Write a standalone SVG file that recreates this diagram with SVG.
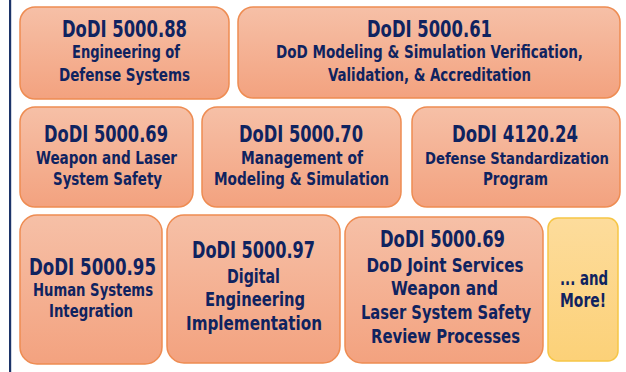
<svg xmlns="http://www.w3.org/2000/svg" width="626" height="372" viewBox="0 0 626 372">
<defs>
<linearGradient id="gO" x1="0" y1="0" x2="0" y2="1"><stop offset="0" stop-color="#F6C0A7"/><stop offset="1" stop-color="#F3A27F"/></linearGradient>
<linearGradient id="gY" x1="0" y1="0" x2="0" y2="1"><stop offset="0" stop-color="#FDDC9C"/><stop offset="1" stop-color="#FCD178"/></linearGradient>
<style>
.b{fill:url(#gO);stroke:#EE8C52;stroke-width:1.5}
.y{fill:url(#gY);stroke:#F6C646;stroke-width:1.5}
text{font-family:"Liberation Sans Narrow","DejaVu Sans Condensed","Liberation Sans",sans-serif;font-weight:bold;fill:#0F2360;text-anchor:middle}
.t{font-size:23px}
.s{font-size:17px}
.m{font-size:20px}
</style>
</defs>
<rect x="9" y="0" width="2.2" height="372" fill="#1C3469"/>
<g id="n1"><rect class="b" x="20" y="7" width="209" height="92" rx="15"/>
<text class="t" x="124.5" y="37" textLength="125" lengthAdjust="spacingAndGlyphs">DoDI 5000.88</text>
<text class="s" x="126" y="58" textLength="108" lengthAdjust="spacingAndGlyphs">Engineering of</text>
<text class="s" x="124.5" y="81" textLength="131" lengthAdjust="spacingAndGlyphs">Defense Systems</text></g>
<g id="n2"><rect class="b" x="238" y="7" width="382" height="91" rx="15"/>
<text class="t" x="429.5" y="37" textLength="125" lengthAdjust="spacingAndGlyphs">DoDI 5000.61</text>
<text class="s" x="429.5" y="58" textLength="307" lengthAdjust="spacingAndGlyphs">DoD Modeling &amp; Simulation Verification,</text>
<text class="s" x="429.5" y="81" textLength="203" lengthAdjust="spacingAndGlyphs">Validation, &amp; Accreditation</text></g>
<g id="n3"><rect class="b" x="20" y="107" width="173" height="100" rx="15"/>
<text class="t" x="106" y="142" textLength="124" lengthAdjust="spacingAndGlyphs">DoDI 5000.69</text>
<text class="s" x="106.5" y="164" textLength="141" lengthAdjust="spacingAndGlyphs">Weapon and Laser</text>
<text class="s" x="107.5" y="185" textLength="109" lengthAdjust="spacingAndGlyphs">System Safety</text></g>
<g id="n4"><rect class="b" x="202" y="107" width="199" height="100" rx="15"/>
<text class="t" x="301" y="142" textLength="124" lengthAdjust="spacingAndGlyphs">DoDI 5000.70</text>
<text class="s" x="302" y="164" textLength="122" lengthAdjust="spacingAndGlyphs">Management of</text>
<text class="s" x="301.5" y="185" textLength="175" lengthAdjust="spacingAndGlyphs">Modeling &amp; Simulation</text></g>
<g id="n5"><rect class="b" x="412" y="107" width="208" height="100" rx="15"/>
<text class="t" x="515" y="142" textLength="126" lengthAdjust="spacingAndGlyphs">DoDI 4120.24</text>
<text class="s" x="517" y="164" style="font-size:16px" textLength="184" lengthAdjust="spacingAndGlyphs">Defense Standardization</text>
<text class="s" x="515.5" y="185" textLength="65" lengthAdjust="spacingAndGlyphs">Program</text></g>
<g id="n6"><rect class="b" x="20" y="215" width="142" height="149" rx="17"/>
<text class="t" x="92.5" y="275" textLength="127" lengthAdjust="spacingAndGlyphs">DoDI 5000.95</text>
<text class="s" x="93" y="296" textLength="120" lengthAdjust="spacingAndGlyphs">Human Systems</text>
<text class="s" x="91" y="317" textLength="84" lengthAdjust="spacingAndGlyphs">Integration</text></g>
<g id="n7"><rect class="b" x="167" y="215" width="173" height="148" rx="17"/>
<text class="t" x="253.5" y="258" textLength="123" lengthAdjust="spacingAndGlyphs">DoDI 5000.97</text>
<text class="m" x="253.5" y="283" textLength="53" lengthAdjust="spacingAndGlyphs">Digital</text>
<text class="m" x="255" y="306" textLength="100" lengthAdjust="spacingAndGlyphs">Engineering</text>
<text class="m" x="254" y="330" textLength="136" lengthAdjust="spacingAndGlyphs">Implementation</text></g>
<g id="n8"><rect class="b" x="345" y="217" width="198" height="146" rx="17"/>
<text class="t" x="442.5" y="247" textLength="125" lengthAdjust="spacingAndGlyphs">DoDI 5000.69</text>
<text class="m" x="445" y="272" textLength="157" lengthAdjust="spacingAndGlyphs">DoD Joint Services</text>
<text class="m" x="444.5" y="295" textLength="107" lengthAdjust="spacingAndGlyphs">Weapon and</text>
<text class="m" x="446" y="319" textLength="170" lengthAdjust="spacingAndGlyphs">Laser System Safety</text>
<text class="m" x="445.5" y="343" textLength="149" lengthAdjust="spacingAndGlyphs">Review Processes</text></g>
<g id="n9"><rect class="y" x="548" y="218" width="70" height="143" rx="10"/>
<text class="m" x="584" y="285" textLength="48" lengthAdjust="spacingAndGlyphs">... and</text>
<text class="m" x="583" y="307" textLength="46" lengthAdjust="spacingAndGlyphs">More!</text></g>
<g id="connectors"/>
</svg>
